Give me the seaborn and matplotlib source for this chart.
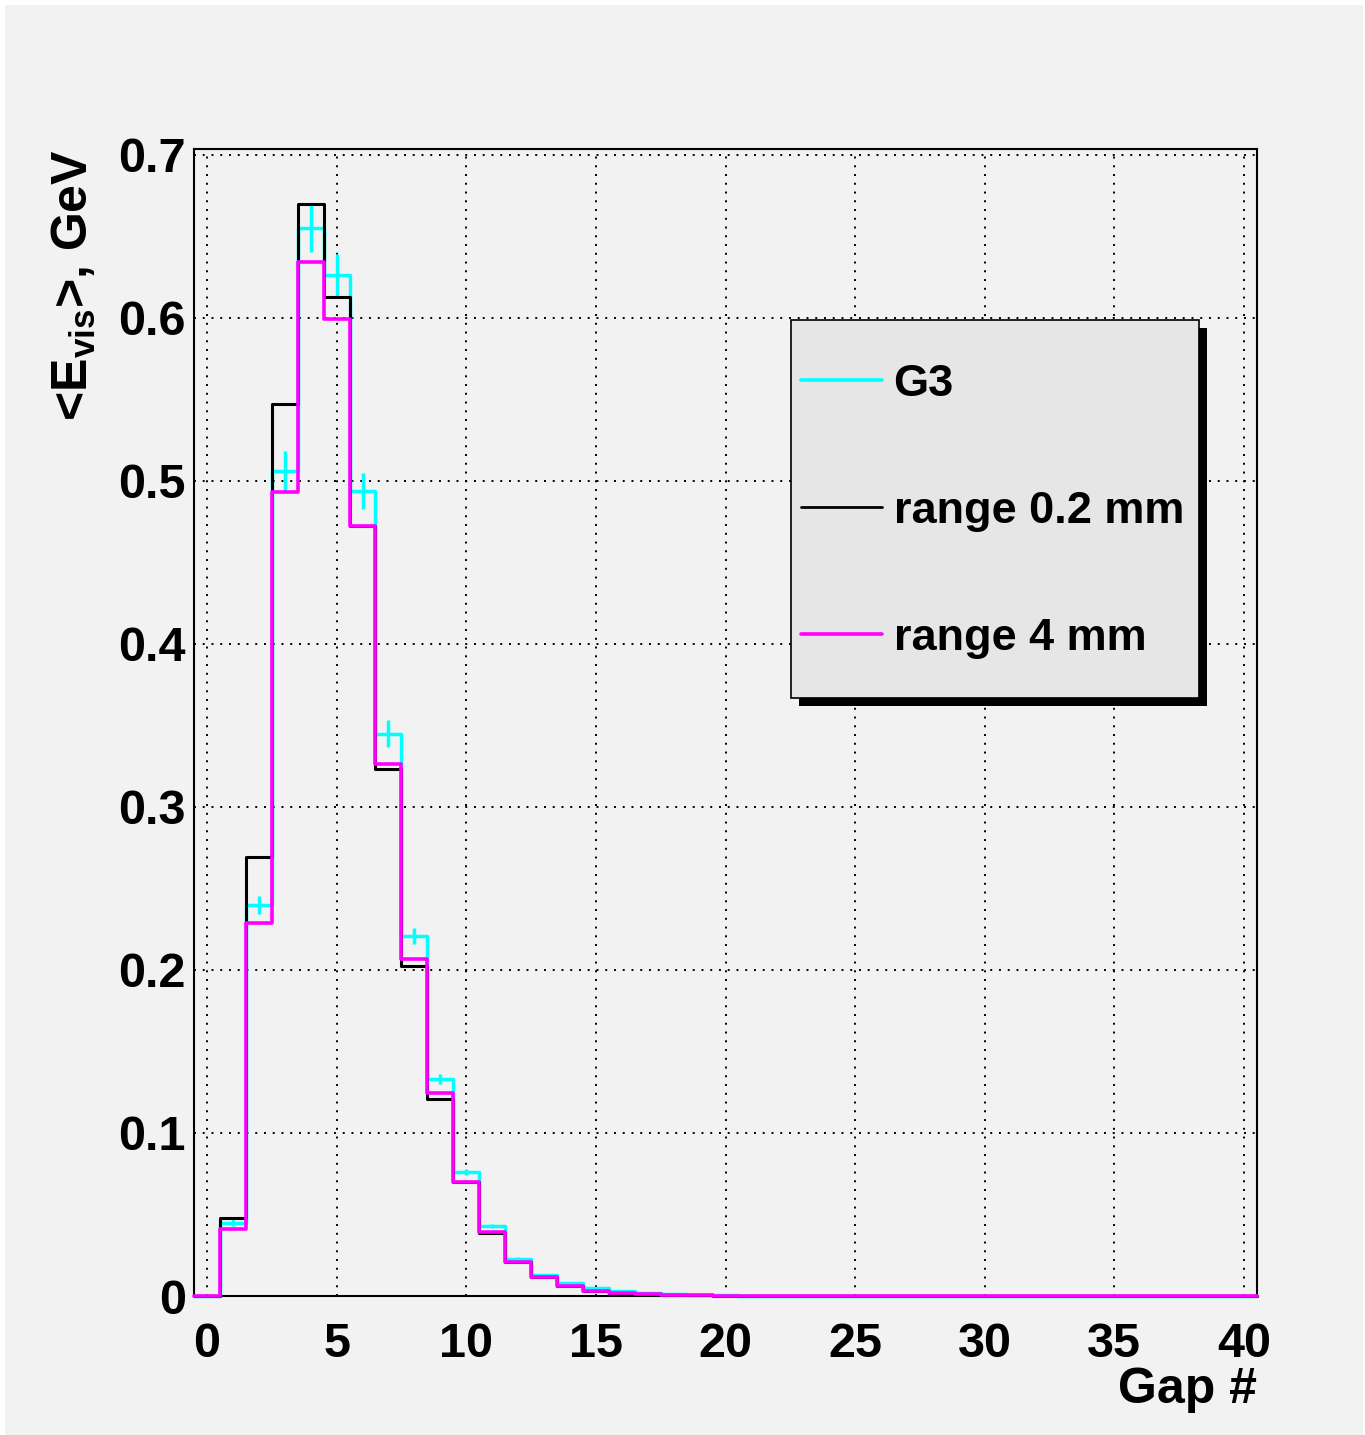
import numpy as np
import pandas as pd
import seaborn as sns
import matplotlib.pyplot as plt
from matplotlib.lines import Line2D
from matplotlib.patches import Rectangle
from matplotlib.ticker import MultipleLocator

# Mean visible energy per gap, bins centred on gap numbers 0..40
gaps = list(range(41))
g3 = [0, 0.045, 0.240, 0.506, 0.655, 0.626, 0.494, 0.345, 0.221, 0.133,
      0.076, 0.043, 0.023, 0.013, 0.008, 0.005, 0.003, 0.002, 0.0012, 0.0008,
      0.0005, 0.0003, 0.0002, 0.0001, 0.0001, 0.0001, 0.0001, 0, 0, 0,
      0, 0, 0, 0, 0, 0, 0, 0, 0, 0, 0]
g3_err = [0, 0.002, 0.0055, 0.012, 0.0145, 0.013, 0.011, 0.008, 0.005, 0.003,
          0.002, 0.001, 0.0008, 0.0005, 0.0003, 0.0002, 0.0001, 0.0001, 0, 0,
          0, 0, 0, 0, 0, 0, 0, 0, 0, 0, 0, 0, 0, 0, 0, 0, 0, 0, 0, 0, 0]
range_02 = [0, 0.048, 0.269, 0.547, 0.670, 0.613, 0.472, 0.323, 0.2025, 0.121,
            0.070, 0.0387, 0.021, 0.0115, 0.006, 0.003, 0.0018, 0.001, 0.0006, 0.0004,
            0.0002, 0.0001, 0.0001, 0, 0, 0, 0, 0, 0, 0,
            0, 0, 0, 0, 0, 0, 0, 0, 0, 0, 0]
range_4 = [0, 0.041, 0.229, 0.493, 0.634, 0.599, 0.472, 0.326, 0.2067, 0.1245,
           0.070, 0.039, 0.021, 0.0117, 0.0061, 0.003, 0.0018, 0.001, 0.0006, 0.0004,
           0.0002, 0.0001, 0.0001, 0, 0, 0, 0, 0, 0, 0,
           0, 0, 0, 0, 0, 0, 0, 0, 0, 0, 0]
labels = ['G3', 'range 0.2 mm', 'range 4 mm']
colors = ['#00ffff', '#000000', '#ff00ff']

df = pd.DataFrame({'gap': gaps, 'g3': g3, 'r02': range_02, 'r4': range_4})

sns.set_style('white')
plt.rcParams['font.family'] = ['Liberation Sans', 'DejaVu Sans']
plt.rcParams['font.weight'] = 'bold'
plt.rcParams['mathtext.fontset'] = 'custom'
plt.rcParams['mathtext.rm'] = 'Liberation Sans:bold'
plt.rcParams['mathtext.bf'] = 'Liberation Sans:bold'
plt.rcParams['mathtext.it'] = 'Liberation Sans:bold'
for key in ['text.color', 'axes.labelcolor', 'xtick.color', 'ytick.color']:
    plt.rcParams[key] = 'black'

W, H = 1365, 1435
fig = plt.figure(figsize=(W / 100, H / 100), dpi=100, facecolor='white')
fig.patches.append(Rectangle((5 / W, 0), (1363 - 5) / W, (H - 5) / H,
                             transform=fig.transFigure, facecolor='#f2f2f2',
                             edgecolor='none', zorder=-10))
ax = fig.add_axes([194 / W, 1 - 1296 / H, (1257 - 194) / W, (1296 - 149) / H])
ax.set_facecolor('#f2f2f2')

sns.histplot(data=df, x='gap', weights='g3', discrete=True, element='step', fill=False,
             color=colors[0], linewidth=2.5, ax=ax, zorder=3, clip_on=False)
ax.errorbar(gaps, g3, yerr=g3_err, fmt='none', ecolor=colors[0],
            elinewidth=2.5, capsize=0, zorder=3)
sns.histplot(data=df, x='gap', weights='r02', discrete=True, element='step', fill=False,
             color=colors[1], linewidth=2.2, ax=ax, zorder=4, clip_on=False)
sns.histplot(data=df, x='gap', weights='r4', discrete=True, element='step', fill=False,
             color=colors[2], linewidth=2.6, ax=ax, zorder=5, clip_on=False)

ax.set_xlim(-0.5, 40.5)
ax.set_ylim(0, 0.7035)
ax.xaxis.set_major_locator(MultipleLocator(5))
ax.xaxis.set_minor_locator(MultipleLocator(1))
ax.yaxis.set_minor_locator(MultipleLocator(0.05))
ax.set_yticks(np.arange(0, 0.71, 0.1))
ax.set_yticklabels(['0', '0.1', '0.2', '0.3', '0.4', '0.5', '0.6', '0.7'])
ax.tick_params(which='both', direction='in', width=1.5, colors='black',
               top=False, right=False, labelsize=35)
ax.tick_params(which='major', length=24)
ax.tick_params(which='minor', length=12)
ax.tick_params(axis='x', which='major', pad=19)
ax.tick_params(axis='y', which='major', pad=6)
for s in ax.spines.values():
    s.set_linewidth(1.5)
    s.set_color('black')
ax.grid(True, which='major', color='black', linestyle=(0, (1, 3.5)), linewidth=1.4)

ax.set_xlabel('Gap #', fontsize=36, fontweight='bold', loc='right')
ax.xaxis.set_label_coords(1.0, -0.062)
ax.set_ylabel(r'<E$_{\mathbf{vis}}$>, GeV', fontsize=36, fontweight='bold', loc='top')
ax.yaxis.set_label_coords(-0.09, 1.0)

# legend box with a ROOT-like drop shadow
bx0, by0 = (791 - 194) / 1063, (1296 - 698) / 1147
bw, bh = (1199 - 791) / 1063, (698 - 320) / 1147
ax.add_patch(Rectangle((bx0 + 0.0075, by0 - 0.007), bw, bh, transform=ax.transAxes,
                       facecolor='black', edgecolor='none', zorder=6))
ax.add_patch(Rectangle((bx0, by0), bw, bh, transform=ax.transAxes,
                       facecolor='#e6e6e6', edgecolor='black', linewidth=1.2, zorder=7))
handles = [Line2D([], [], color=c, linewidth=lw) for c, lw in zip(colors, [2.6, 2.0, 2.6])]
leg = ax.legend(handles, labels, loc='upper left',
                bbox_to_anchor=((801 - 194) / 1063, (1296 - 364) / 1147),
                frameon=False, fontsize=32.5, borderaxespad=0, borderpad=0,
                handlelength=1.8, handletextpad=0.25, labelspacing=1.9)
leg.set_zorder(8)
for t in leg.get_texts():
    t.set_fontweight('bold')

fig.savefig('out.png', dpi=100, facecolor=fig.get_facecolor())
